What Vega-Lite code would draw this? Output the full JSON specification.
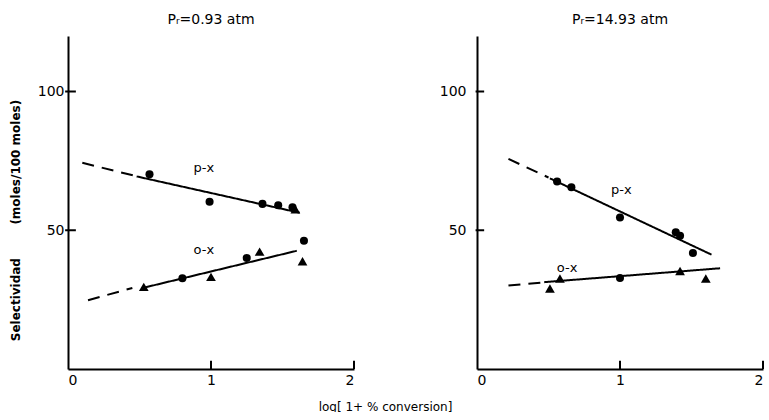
{
  "$schema": "https://vega.github.io/schema/vega-lite/v6.json",
  "padding": {"left": 9, "top": 13, "right": 0, "bottom": 0},
  "background": "white",
  "config": {
    "font": "DejaVu Sans",
    "view": {"stroke": null},
    "axis": {"grid": false, "tickSize": 0, "domainColor": "black", "domainWidth": 2, "labelColor": "black", "titleColor": "black", "labelFontSize": 14, "labelFont": "DejaVu Sans"},
    "title": {"fontSize": 14, "fontWeight": "normal", "color": "black"}
  },
  "datasets": {
    "points": [
      {"panel": "A", "marker": "circle", "x": 0.57, "y": 70.2},
      {"panel": "A", "marker": "circle", "x": 0.99, "y": 60.3},
      {"panel": "A", "marker": "circle", "x": 1.36, "y": 59.5},
      {"panel": "A", "marker": "circle", "x": 1.47, "y": 59.0},
      {"panel": "A", "marker": "circle", "x": 1.57, "y": 58.3},
      {"panel": "A", "marker": "triangle-up", "x": 1.59, "y": 57.6},
      {"panel": "A", "marker": "triangle-up", "x": 0.53, "y": 29.6},
      {"panel": "A", "marker": "circle", "x": 0.80, "y": 32.7},
      {"panel": "A", "marker": "triangle-up", "x": 1.00, "y": 33.2},
      {"panel": "A", "marker": "circle", "x": 1.25, "y": 40.0},
      {"panel": "A", "marker": "triangle-up", "x": 1.34, "y": 42.3},
      {"panel": "A", "marker": "circle", "x": 1.65, "y": 46.2},
      {"panel": "A", "marker": "triangle-up", "x": 1.64, "y": 38.8},
      {"panel": "B", "marker": "circle", "x": 0.56, "y": 67.6},
      {"panel": "B", "marker": "circle", "x": 0.66, "y": 65.5},
      {"panel": "B", "marker": "circle", "x": 1.00, "y": 54.6},
      {"panel": "B", "marker": "circle", "x": 1.39, "y": 49.3},
      {"panel": "B", "marker": "circle", "x": 1.42, "y": 48.0},
      {"panel": "B", "marker": "circle", "x": 1.51, "y": 41.8},
      {"panel": "B", "marker": "triangle-up", "x": 0.51, "y": 29.0},
      {"panel": "B", "marker": "triangle-up", "x": 0.58, "y": 32.6},
      {"panel": "B", "marker": "circle", "x": 1.00, "y": 32.8},
      {"panel": "B", "marker": "triangle-up", "x": 1.42, "y": 35.3},
      {"panel": "B", "marker": "triangle-up", "x": 1.60, "y": 32.6}
    ],
    "lines": [
      {"panel": "A", "seg": "A-p-solid", "style": "solid", "x": 0.48, "y": 69.4},
      {"panel": "A", "seg": "A-p-solid", "style": "solid", "x": 1.62, "y": 56.3},
      {"panel": "A", "seg": "A-p-dash", "style": "dashed", "x": 0.10, "y": 74.3},
      {"panel": "A", "seg": "A-p-dash", "style": "dashed", "x": 0.46, "y": 69.7},
      {"panel": "A", "seg": "A-o-solid", "style": "solid", "x": 0.53, "y": 29.3},
      {"panel": "A", "seg": "A-o-solid", "style": "solid", "x": 1.60, "y": 42.6},
      {"panel": "A", "seg": "A-o-dash", "style": "dashed", "x": 0.14, "y": 24.8},
      {"panel": "A", "seg": "A-o-dash", "style": "dashed", "x": 0.45, "y": 29.2},
      {"panel": "B", "seg": "B-p-solid", "style": "solid", "x": 0.51, "y": 68.7},
      {"panel": "B", "seg": "B-p-solid", "style": "solid", "x": 1.64, "y": 41.2},
      {"panel": "B", "seg": "B-p-dash", "style": "dashed", "x": 0.22, "y": 75.7},
      {"panel": "B", "seg": "B-p-dash", "style": "dashed", "x": 0.50, "y": 69.0},
      {"panel": "B", "seg": "B-o-solid", "style": "solid", "x": 0.47, "y": 31.3},
      {"panel": "B", "seg": "B-o-solid", "style": "solid", "x": 1.70, "y": 36.3},
      {"panel": "B", "seg": "B-o-dash", "style": "dashed", "x": 0.22, "y": 30.1},
      {"panel": "B", "seg": "B-o-dash", "style": "dashed", "x": 0.46, "y": 31.2}
    ],
    "labels": [
      {"panel": "A", "text": "p-x", "x": 0.95, "y": 72.5},
      {"panel": "A", "text": "o-x", "x": 0.95, "y": 43.0},
      {"panel": "B", "text": "p-x", "x": 1.01, "y": 64.5},
      {"panel": "B", "text": "o-x", "x": 0.63, "y": 36.5}
    ],
    "tickmarks": [
      {"axis": "x", "v": 1},
      {"axis": "x", "v": 2},
      {"axis": "y", "v": 50},
      {"axis": "y", "v": 100}
    ]
  },
  "hconcat": [
    {
      "width": 286,
      "height": 333,
      "title": {"text": "Pᵣ=0.93 atm", "offset": 9},
      "layer": [
        {
          "data": {"name": "lines"},
          "transform": [{"filter": "datum.panel === 'A'"}],
          "mark": {"type": "line", "color": "black", "strokeWidth": 2},
          "encoding": {
            "x": {"field": "x", "type": "quantitative", "scale": {"domain": [0, 2]},
              "axis": {"values": [0, 1, 2], "labelExpr": "format(datum.value, 'd')", "labelPadding": 4, "labelOverlap": false, "title": "log[ 1+ % conversion]", "titleX": 317, "titleY": 32, "titleFontSize": 12, "titleFontWeight": "normal", "titleAlign": "center"}},
            "y": {"field": "y", "type": "quantitative", "scale": {"domain": [0, 117.5]},
              "axis": {"values": [50, 100], "labelPadding": 4, "title": "Selectividad\u00a0\u00a0\u00a0\u00a0\u00a0\u00a0\u00a0\u00a0(moles/100 moles)", "titleX": -46, "titleY": 184, "titleFontSize": 12, "titleFontWeight": "bold"}},
            "detail": {"field": "seg"},
            "strokeDash": {"field": "style", "type": "nominal", "scale": {"domain": ["solid", "dashed"], "range": [[1, 0], [12, 8]]}, "legend": null}
          }
        },
        {
          "data": {"name": "tickmarks"},
          "transform": [{"filter": "datum.axis === 'x'"}],
          "mark": {"type": "rule", "color": "black", "strokeWidth": 2},
          "encoding": {"x": {"field": "v", "type": "quantitative"}, "y": {"datum": 0}, "y2": {"datum": 3}}
        },
        {
          "data": {"name": "tickmarks"},
          "transform": [{"filter": "datum.axis === 'y'"}],
          "mark": {"type": "rule", "color": "black", "strokeWidth": 2},
          "encoding": {"y": {"field": "v", "type": "quantitative"}, "x": {"datum": -0.02}, "x2": {"datum": 0.055}}
        },
        {
          "data": {"name": "points"},
          "transform": [{"filter": "datum.panel === 'A'"}],
          "mark": {"type": "point", "filled": true, "color": "black", "opacity": 1},
          "encoding": {
            "x": {"field": "x", "type": "quantitative"},
            "y": {"field": "y", "type": "quantitative"},
            "shape": {"field": "marker", "type": "nominal", "scale": {"domain": ["circle", "triangle-up"], "range": ["circle", "triangle-up"]}, "legend": null},
            "size": {"field": "marker", "type": "nominal", "scale": {"domain": ["circle", "triangle-up"], "range": [65, 95]}, "legend": null}
          }
        },
        {
          "data": {"name": "labels"},
          "transform": [{"filter": "datum.panel === 'A'"}],
          "mark": {"type": "text", "color": "black", "fontSize": 13},
          "encoding": {
            "x": {"field": "x", "type": "quantitative"},
            "y": {"field": "y", "type": "quantitative"},
            "text": {"field": "text"}
          }
        }
      ]
    },
    {
      "width": 286,
      "height": 333,
      "title": {"text": "Pᵣ=14.93 atm", "offset": 9},
      "layer": [
        {
          "data": {"name": "lines"},
          "transform": [{"filter": "datum.panel === 'B'"}],
          "mark": {"type": "line", "color": "black", "strokeWidth": 2},
          "encoding": {
            "x": {"field": "x", "type": "quantitative", "scale": {"domain": [0, 2]},
              "axis": {"values": [0, 1, 2], "labelExpr": "format(datum.value, 'd')", "labelPadding": 4, "labelOverlap": false, "title": null}},
            "y": {"field": "y", "type": "quantitative", "scale": {"domain": [0, 117.5]},
              "axis": {"values": [50, 100], "labelPadding": 11, "title": null}},
            "detail": {"field": "seg"},
            "strokeDash": {"field": "style", "type": "nominal", "scale": {"domain": ["solid", "dashed"], "range": [[1, 0], [12, 8]]}, "legend": null}
          }
        },
        {
          "data": {"name": "tickmarks"},
          "transform": [{"filter": "datum.axis === 'x'"}],
          "mark": {"type": "rule", "color": "black", "strokeWidth": 2},
          "encoding": {"x": {"field": "v", "type": "quantitative"}, "y": {"datum": 0}, "y2": {"datum": 3}}
        },
        {
          "data": {"name": "tickmarks"},
          "transform": [{"filter": "datum.axis === 'y'"}],
          "mark": {"type": "rule", "color": "black", "strokeWidth": 2},
          "encoding": {"y": {"field": "v", "type": "quantitative"}, "x": {"datum": -0.01}, "x2": {"datum": 0.05}}
        },
        {
          "data": {"name": "points"},
          "transform": [{"filter": "datum.panel === 'B'"}],
          "mark": {"type": "point", "filled": true, "color": "black", "opacity": 1},
          "encoding": {
            "x": {"field": "x", "type": "quantitative"},
            "y": {"field": "y", "type": "quantitative"},
            "shape": {"field": "marker", "type": "nominal", "scale": {"domain": ["circle", "triangle-up"], "range": ["circle", "triangle-up"]}, "legend": null},
            "size": {"field": "marker", "type": "nominal", "scale": {"domain": ["circle", "triangle-up"], "range": [65, 95]}, "legend": null}
          }
        },
        {
          "data": {"name": "labels"},
          "transform": [{"filter": "datum.panel === 'B'"}],
          "mark": {"type": "text", "color": "black", "fontSize": 13},
          "encoding": {
            "x": {"field": "x", "type": "quantitative"},
            "y": {"field": "y", "type": "quantitative"},
            "text": {"field": "text"}
          }
        }
      ]
    }
  ],
  "spacing": 123,
  "bounds": "flush"
}
